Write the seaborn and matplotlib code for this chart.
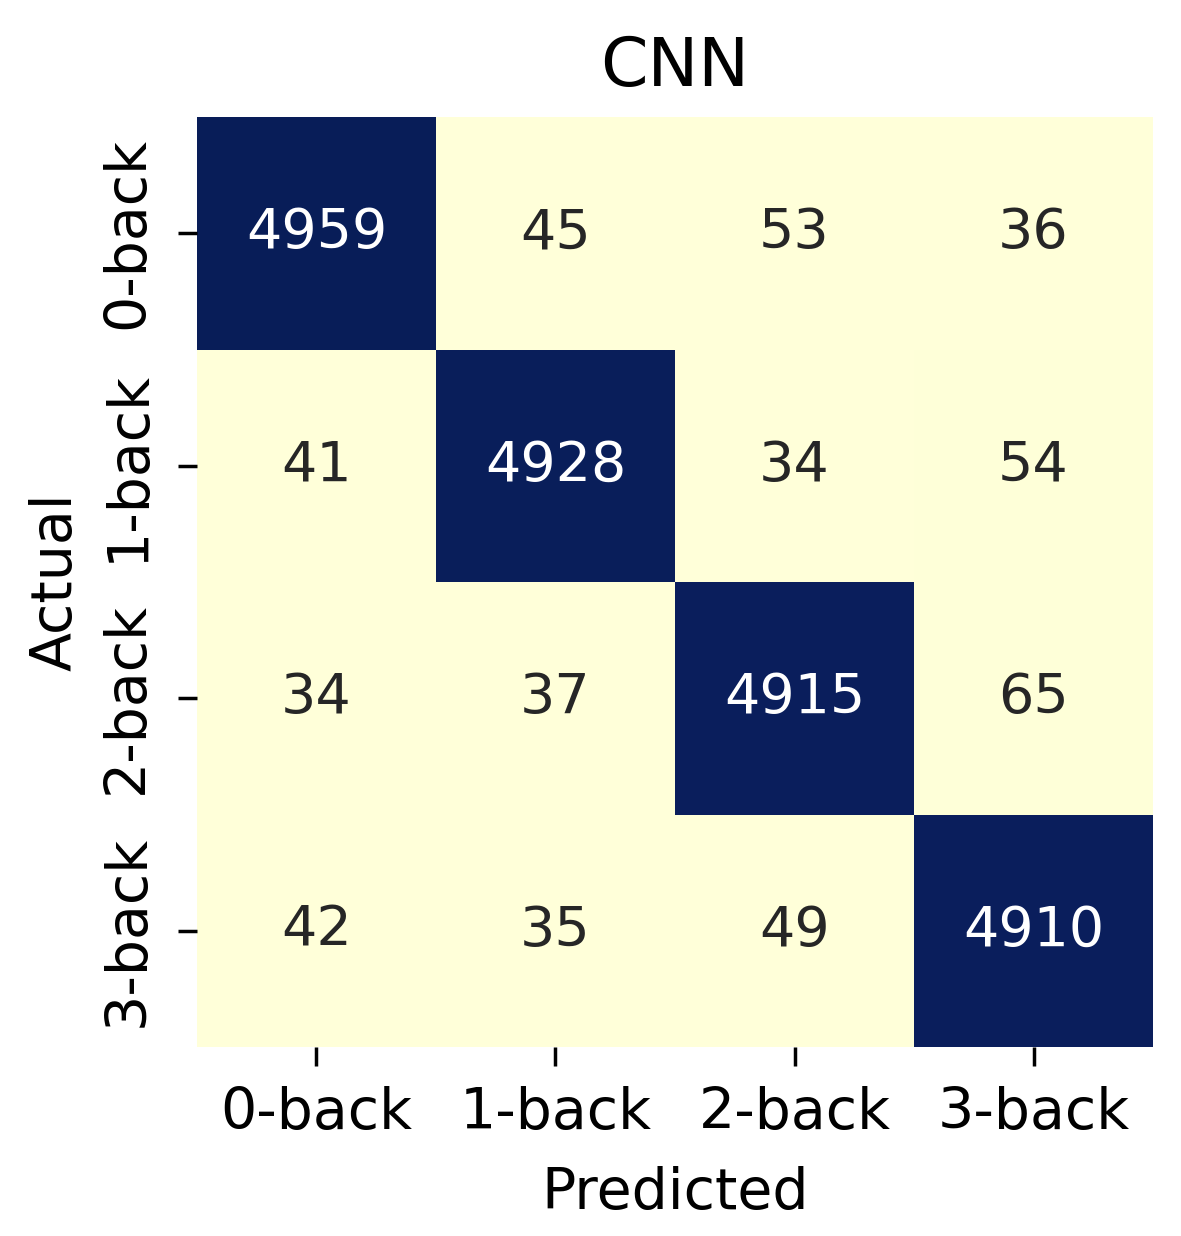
import matplotlib
matplotlib.use("Agg")
import matplotlib.pyplot as plt
import seaborn as sns
import numpy as np

# confusion matrix values
labels = ["0-back", "1-back", "2-back", "3-back"]
row_0back = [4959, 45, 53, 36]
row_1back = [41, 4928, 34, 54]
row_2back = [34, 37, 4915, 65]
row_3back = [42, 35, 49, 4910]

cm = np.array([row_0back, row_1back, row_2back, row_3back])

fig = plt.figure(figsize=(11.81, 12.36), dpi=100)
ax = fig.add_axes([0.1668, 0.1529, 0.8095, 0.7524])

sns.heatmap(
    cm,
    annot=True,
    fmt="d",
    cmap="YlGnBu",
    cbar=False,
    xticklabels=labels,
    yticklabels=labels,
    annot_kws={"fontsize": 40},
    ax=ax,
)

ax.set_title("CNN", fontsize=49, pad=22)
ax.set_xlabel("Predicted", fontsize=41, labelpad=18)
ax.set_ylabel("Actual", fontsize=41, labelpad=12)
ax.tick_params(axis="both", labelsize=41, length=14, width=2.5, pad=14)
ax.tick_params(axis="y", pad=16)
plt.setp(ax.get_yticklabels(), rotation=90, va="center")

fig.savefig("out.png", dpi=100)
